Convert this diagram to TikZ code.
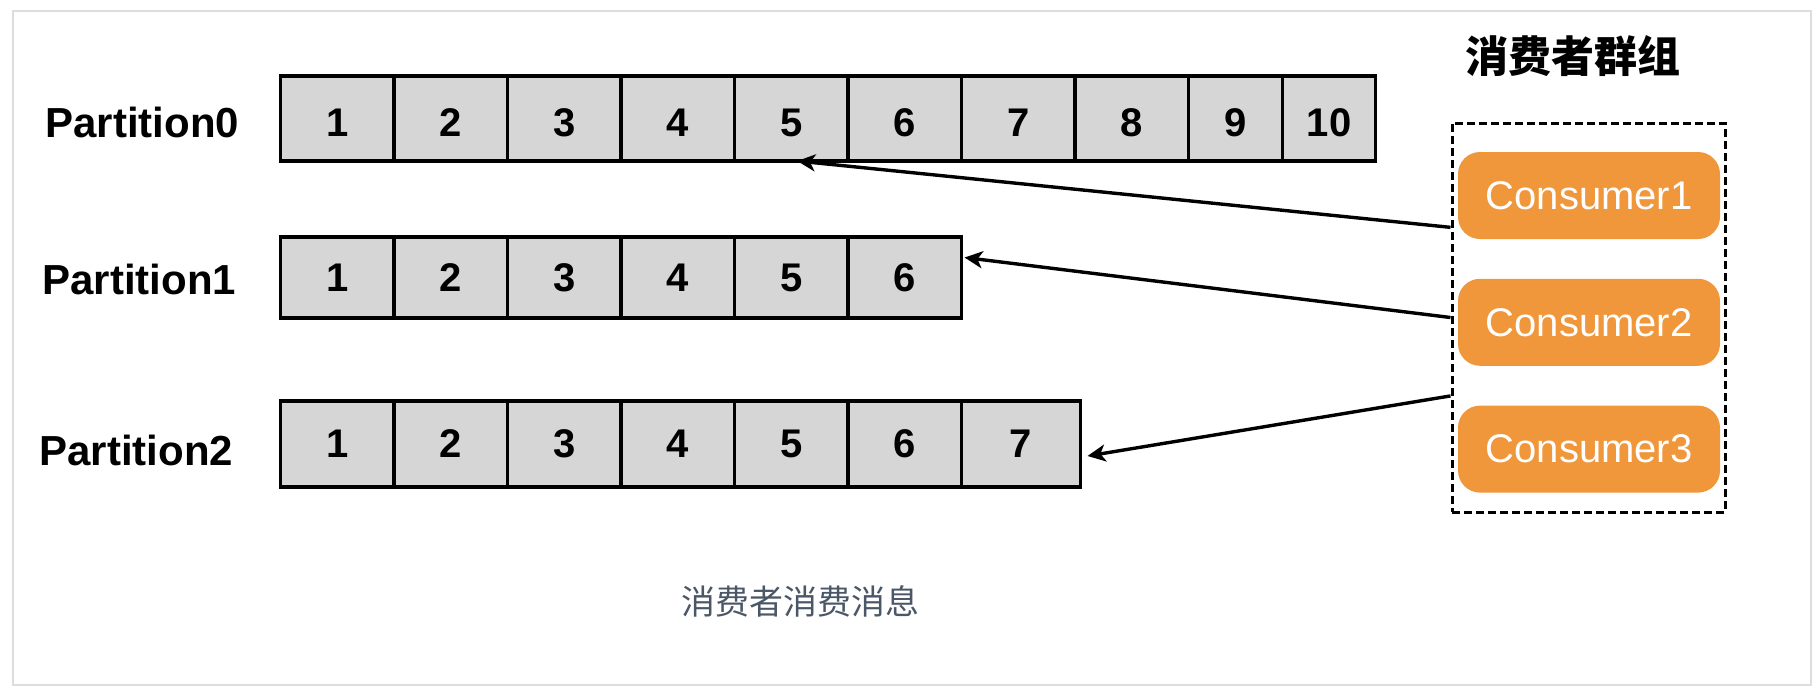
\documentclass[tikz,border=0pt]{standalone}
\usepackage{fontspec}
\setmainfont{Liberation Sans}
\newfontfamily\cjk{Noto Sans CJK SC}
\usepackage{tikz}
\usetikzlibrary{arrows.meta, positioning, calc}
\definecolor{cellgray}{HTML}{D6D6D6}
\definecolor{consumerorange}{HTML}{F0963B}
\definecolor{framegray}{HTML}{DDDDDD}
\definecolor{captiongray}{HTML}{4B5766}
\tikzset{
		cell/.style={draw, line width=1.9pt, fill=cellgray, inner sep=0pt, outer sep=0pt,
			minimum width=56.75pt, minimum height=42.5pt, font=\fontsize{20}{20}\selectfont\bfseries},
		cell0/.style={cell, text height=18.3pt},
		cell1/.style={cell, minimum height=40.5pt},
		cell2/.style={cell, minimum height=43pt},
		part label/.style={inner sep=0pt, font=\fontsize{21}{21}\selectfont\bfseries},
		consumer/.style={fill=consumerorange, text=white, rounded corners=11pt, inner sep=0pt,
			minimum width=131pt, minimum height=43.5pt, font=\fontsize{20}{20}\selectfont},
		group/.style={draw, line width=1.5pt, dash pattern=on 4pt off 2pt, inner sep=0pt,
			minimum width=136.5pt, minimum height=194.5pt},
		group title/.style={inner sep=0pt, font=\cjk\bfseries\fontsize{21.5}{21.5}\selectfont},
		caption/.style={inner sep=0pt, text=captiongray, font=\cjk\fontsize{17}{17}\selectfont},
		fetch/.style={draw, line width=1.7pt, -{Stealth[length=9pt, width=8.5pt, inset=2.5pt]}}
	}
\begin{document}
\begin{tikzpicture}[x=0.5pt, y=-0.5pt, node distance=19.5pt]
		\useasboundingbox (0,0) rectangle (1814,686);
		\draw[framegray, line width=1pt] (12.5,11) rectangle (1810.5,685);

		\node[cell0] (p0c1) at (337.25,118.5)               {1};
		\node[cell0] (p0c2)  [right=0pt of p0c1]            {2};
		\node[cell0] (p0c3)  [right=0pt of p0c2]            {3};
		\node[cell0] (p0c4)  [right=0pt of p0c3]            {4};
		\node[cell0] (p0c5)  [right=0pt of p0c4]            {5};
		\node[cell0] (p0c6)  [right=0pt of p0c5]            {6};
		\node[cell0] (p0c7)  [right=0pt of p0c6]            {7};
		\node[cell0] (p0c8)  [right=0pt of p0c7]            {8};
		\node[cell0, minimum width=47pt]   (p0c9)  [right=0pt of p0c8] {9};
		\node[cell0, minimum width=46.5pt] (p0c10) [right=0pt of p0c9] {10};

		\node[cell1] (p1c1) at (337.25,277.5)               {1};
		\node[cell1] (p1c2)  [right=0pt of p1c1]            {2};
		\node[cell1] (p1c3)  [right=0pt of p1c2]            {3};
		\node[cell1] (p1c4)  [right=0pt of p1c3]            {4};
		\node[cell1] (p1c5)  [right=0pt of p1c4]            {5};
		\node[cell1] (p1c6)  [right=0pt of p1c5]            {6};

		\node[cell2] (p2c1) at (337.25,444)                 {1};
		\node[cell2] (p2c2)  [right=0pt of p2c1]            {2};
		\node[cell2] (p2c3)  [right=0pt of p2c2]            {3};
		\node[cell2] (p2c4)  [right=0pt of p2c3]            {4};
		\node[cell2] (p2c5)  [right=0pt of p2c4]            {5};
		\node[cell2] (p2c6)  [right=0pt of p2c5]            {6};
		\node[cell2, minimum width=59.5pt] (p2c7) [right=0pt of p2c6] {7};

		\node[part label] (p0) [left=20.5pt of p0c1, yshift=-2pt] {Partition0};
		\node[part label] (p1) [left=22pt of p1c1, yshift=-1pt]   {Partition1};
		\node[part label] (p2) [left=23.5pt of p2c1, yshift=-3pt] {Partition2};

		\node[group]       (grp)      at (1588.5,317.5) {};
		\node[group title] (grptitle) at (1573,56)      {消费者群组};
		\node[consumer]    (c1)       at (1589,195.5)   {Consumer1};
		\node[consumer]    (c2)       [below=of c1]     {Consumer2};
		\node[consumer]    (c3)       [below=of c2]     {Consumer3};

		\coordinate (s1) at ($(grp.north west)!0.27!(grp.south west)$);
		\coordinate (s3) at ($(grp.north west)!0.70!(grp.south west)$);

		\draw[fetch] (s1)       -- ([xshift=3pt]p0c5.south);
		\draw[fetch] (grp.west) -- ([xshift=1.5pt, yshift=10pt]p1c6.east);
		\draw[fetch] (s3)       -- ([xshift=3.5pt, yshift=-6pt]p2c7.east);

		\node[caption] (cap) at (800,601) {消费者消费消息};
	\end{tikzpicture}
\end{document}
